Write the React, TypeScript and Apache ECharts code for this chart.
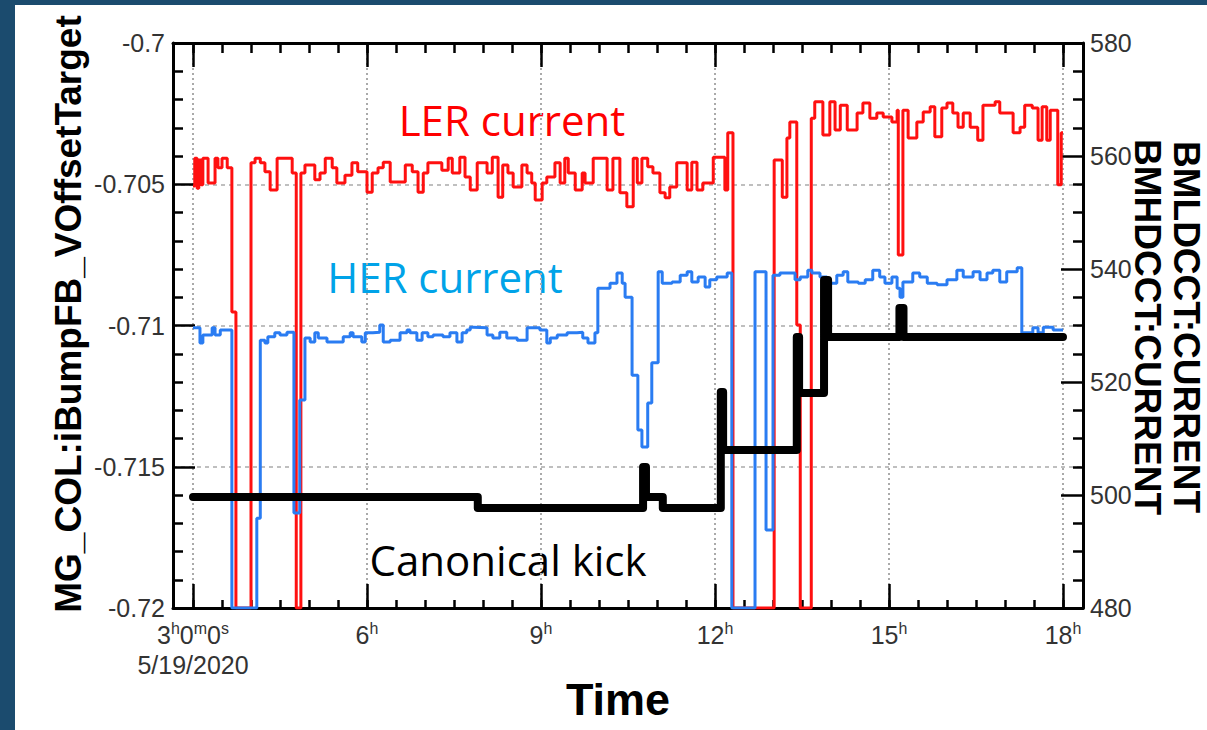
import React, { useEffect, useRef } from 'react';
import * as echarts from 'echarts';

// tick positions (hours of 5/19/2020)
const majorHours = [3, 6, 9, 12, 15, 18];
const minorHours = [3, 3.5, 4, 4.5, 5, 5.5, 6, 6.5, 7, 7.5, 8, 8.5, 9, 9.5, 10, 10.5, 11, 11.5, 12, 12.5, 13, 13.5, 14, 14.5, 15, 15.5, 16, 16.5, 17, 17.5, 18];
const dateLabel = '5/19/2020';

// BMLDCCT:CURRENT (LER current), [hour, mA]
const lerCurrent: [number, number][] = [
  [3.00, 554.7], [3.03, 559.6], [3.07, 554.3], [3.10, 559.3], [3.14, 554.9], [3.17, 559.6], [3.26, 555.2], [3.38, 559.6],
  [3.43, 557.9], [3.50, 559.6], [3.59, 557.9], [3.67, 532.4], [3.74, 480], [4.00, 558.8], [4.07, 559.6], [4.16, 558.8],
  [4.24, 557.2], [4.33, 554.0], [4.45, 559.6], [4.71, 557.0], [4.78, 480], [4.86, 557.0], [4.93, 558.4], [5.10, 555.8],
  [5.19, 557.0], [5.28, 559.6], [5.40, 557.9], [5.48, 555.2], [5.62, 556.6], [5.74, 558.8], [5.84, 557.2], [6.00, 553.6],
  [6.09, 557.0], [6.19, 557.9], [6.28, 558.9], [6.40, 555.4], [6.66, 558.4], [6.78, 557.2], [6.88, 553.6], [6.97, 557.0],
  [7.05, 558.8], [7.29, 557.5], [7.40, 559.6], [7.47, 557.0], [7.60, 559.8], [7.69, 556.3], [7.78, 554.0], [7.90, 558.8],
  [8.07, 557.0], [8.16, 559.8], [8.26, 552.7], [8.34, 558.4], [8.43, 557.0], [8.52, 554.5], [8.67, 558.4], [8.76, 557.0],
  [8.84, 555.2], [8.90, 552.2], [9.02, 555.2], [9.10, 556.3], [9.24, 558.8], [9.33, 555.2], [9.41, 559.6], [9.47, 557.0],
  [9.59, 554.0], [9.71, 557.0], [9.76, 555.2], [9.90, 559.6], [10.14, 554.0], [10.24, 559.6], [10.36, 553.5], [10.48, 551.0],
  [10.59, 559.6], [10.66, 555.2], [10.74, 559.6], [10.84, 558.1], [10.93, 557.0], [11.05, 553.5], [11.14, 552.6], [11.22, 554.5],
  [11.34, 558.8], [11.52, 554.0], [11.60, 558.9], [11.69, 554.0], [11.79, 555.2], [11.97, 559.8], [12.17, 554.0], [12.22, 564.1],
  [12.31, 480], [13.02, 559.3], [13.16, 552.7], [13.24, 563.2], [13.29, 566.0], [13.41, 530.1], [13.47, 480], [13.66, 566.7],
  [13.72, 569.6], [13.86, 563.7], [13.98, 569.6], [14.07, 564.6], [14.16, 569.0], [14.28, 564.6], [14.45, 567.6], [14.55, 569.4],
  [14.67, 566.7], [14.79, 567.6], [14.90, 566.9], [15.05, 566.0], [15.14, 568.1], [15.16, 542.5], [15.24, 568.1], [15.33, 563.2],
  [15.48, 566.0], [15.59, 567.8], [15.71, 568.7], [15.79, 563.4], [15.91, 568.5], [16.00, 569.4], [16.10, 567.6], [16.19, 565.1],
  [16.28, 567.6], [16.40, 565.1], [16.53, 562.8], [16.62, 569.0], [16.83, 569.6], [16.91, 567.6], [17.14, 564.1], [17.26, 565.1],
  [17.34, 569.0], [17.47, 568.5], [17.57, 562.8], [17.64, 568.7], [17.72, 562.8], [17.78, 568.1], [17.91, 554.9], [17.97, 564.1],
  [18.00, 564.1],
];

// BMHDCCT:CURRENT (HER current), [hour, mA]
const herCurrent: [number, number][] = [
  [3.00, 529.6], [3.12, 526.9], [3.17, 528.3], [3.33, 529.6], [3.38, 528.3], [3.47, 529.2], [3.67, 480], [4.10, 495.9],
  [4.16, 527.4], [4.24, 526.9], [4.29, 528.0], [4.41, 528.7], [4.50, 528.3], [4.62, 528.8], [4.74, 496.8], [4.84, 516.8],
  [4.93, 527.8], [5.02, 527.1], [5.10, 528.7], [5.16, 527.8], [5.31, 527.1], [5.59, 528.0], [5.71, 528.7], [5.76, 528.0],
  [5.91, 527.1], [5.97, 528.7], [6.10, 528.8], [6.22, 530.1], [6.28, 527.1], [6.40, 527.4], [6.57, 528.7], [6.69, 529.2],
  [6.74, 528.7], [6.86, 527.4], [6.95, 528.7], [7.05, 528.0], [7.14, 528.3], [7.31, 528.0], [7.43, 528.7], [7.55, 527.1],
  [7.64, 528.7], [7.72, 529.2], [7.78, 529.7], [7.83, 529.6], [8.07, 528.3], [8.17, 527.8], [8.29, 528.8], [8.41, 527.8],
  [8.59, 527.4], [8.76, 529.6], [8.98, 529.2], [9.10, 526.9], [9.16, 527.8], [9.28, 528.3], [9.45, 528.7], [9.62, 528.8],
  [9.72, 527.8], [9.81, 526.9], [9.93, 528.7], [9.98, 536.6], [10.19, 537.5], [10.31, 539.3], [10.40, 537.5], [10.45, 535.0],
  [10.57, 521.2], [10.67, 511.5], [10.74, 508.5], [10.84, 516.3], [10.91, 523.4], [11.02, 539.5], [11.09, 537.5], [11.26, 537.7],
  [11.40, 538.9], [11.52, 539.5], [11.60, 537.7], [11.71, 538.6], [11.83, 536.8], [11.91, 538.1], [12.03, 538.6], [12.21, 539.3],
  [12.29, 480], [12.69, 539.5], [12.88, 493.8], [13.00, 538.9], [13.12, 539.3], [13.38, 538.1], [13.47, 538.6], [13.60, 539.8],
  [13.67, 539.3], [13.81, 538.6], [13.93, 537.5], [14.10, 538.9], [14.21, 539.5], [14.29, 537.7], [14.47, 537.5], [14.59, 538.1],
  [14.72, 539.8], [14.84, 538.6], [14.93, 537.5], [15.05, 538.6], [15.14, 536.6], [15.19, 535.0], [15.24, 537.7], [15.41, 539.3],
  [15.53, 538.6], [15.66, 537.5], [15.83, 537.2], [16.00, 538.1], [16.17, 539.8], [16.28, 538.6], [16.45, 539.5], [16.57, 538.1],
  [16.69, 539.3], [16.79, 539.8], [16.91, 537.7], [17.03, 539.5], [17.21, 540.2], [17.29, 528.7], [17.48, 529.6], [17.57, 528.7],
  [17.66, 529.7], [17.83, 529.2], [18.00, 529.2],
];

// MG_COL:iBumpFB_VOffsetTarget (canonical kick), [hour, value]
const canonicalKick: [number, number][] = [
  [3.00, -0.71607], [7.91, -0.71646], [10.76, -0.71501], [10.81, -0.71607], [11.10, -0.71646], [12.10, -0.71235],
  [12.14, -0.71441], [13.41, -0.71041], [13.45, -0.71239], [13.88, -0.70839], [13.95, -0.71041], [15.18, -0.70938],
  [15.25, -0.71041], [18.00, -0.71041],
];

const FONT = 'Liberation Sans, Arial, sans-serif';
const X_MIN = 2.655;
const X_MAX = 18.345;

export default function App() {
  const ref = useRef<HTMLDivElement>(null);
  useEffect(() => {
    if (!ref.current) return;
    const chart = echarts.init(ref.current, null, { renderer: 'svg' });
    const baseX = {
      type: 'value',
      gridIndex: 0,
      min: X_MIN,
      max: X_MAX,
      axisLine: { show: false },
      axisLabel: { show: false },
      splitLine: { show: false },
    };
    const option: any = {
      animation: false,
      backgroundColor: '#ffffff',
      grid: { left: 173, top: 43, width: 910, height: 565, containLabel: false, outerBoundsMode: 'none' },
      xAxis: [
        {
          ...baseX,
          position: 'bottom',
          axisLine: { show: true, onZero: false, lineStyle: { color: '#000', width: 3 } },
          axisTick: { show: true, inside: true, length: 24, customValues: majorHours, lineStyle: { color: '#000', width: 2.5 } },
          axisLabel: {
            show: true,
            customValues: majorHours,
            margin: 12,
            formatter: (v: number) =>
              v === majorHours[0]
                ? `{n|${v}}{s|h}{n|0}{s|m}{n|0}{s|s}\n{n|${dateLabel}}`
                : `{n|${v}}{s|h}`,
            rich: {
              n: { fontFamily: FONT, fontSize: 25, color: '#333', lineHeight: 30 },
              s: { fontFamily: FONT, fontSize: 16, color: '#333', lineHeight: 13, verticalAlign: 'top' },
            },
          },
          splitLine: { show: true, lineStyle: { color: '#aaa', width: 2, type: [2, 3] } },
        },
        {
          ...baseX,
          position: 'bottom',
          axisTick: { show: true, inside: true, length: 8, customValues: minorHours, lineStyle: { color: '#000', width: 2.5 } },
        },
        {
          ...baseX,
          position: 'top',
          axisLine: { show: true, onZero: false, lineStyle: { color: '#000', width: 3 } },
          axisTick: { show: true, inside: true, length: 24, customValues: majorHours, lineStyle: { color: '#000', width: 2.5 } },
        },
        {
          ...baseX,
          position: 'top',
          axisTick: { show: true, inside: true, length: 10, customValues: minorHours, lineStyle: { color: '#000', width: 2.5 } },
        },
      ],
      yAxis: [
        {
          type: 'value',
          position: 'left',
          min: -0.72,
          max: -0.7,
          interval: 0.005,
          axisLine: { show: true, onZero: false, lineStyle: { color: '#000', width: 3 } },
          axisTick: { show: true, inside: true, length: 22, lineStyle: { color: '#000', width: 2.5 } },
          minorTick: { show: true, splitNumber: 5, length: 10, lineStyle: { color: '#000', width: 2.5 } },
          axisLabel: { fontFamily: FONT, fontSize: 25, color: '#333', margin: 8 },
          splitLine: { show: true, lineStyle: { color: '#aaa', width: 1.5, type: [4, 4] } },
        },
        {
          type: 'value',
          position: 'right',
          min: 480,
          max: 580,
          interval: 20,
          axisLine: { show: true, onZero: false, lineStyle: { color: '#000', width: 3 } },
          axisTick: { show: true, inside: true, length: 22, lineStyle: { color: '#000', width: 2.5 } },
          minorTick: { show: true, splitNumber: 4, length: 10, lineStyle: { color: '#000', width: 2.5 } },
          axisLabel: { fontFamily: FONT, fontSize: 25, color: '#333', margin: 7 },
          splitLine: { show: false },
        },
      ],
      series: [
        {
          name: 'LER current',
          type: 'line',
          xAxisIndex: 0,
          yAxisIndex: 1,
          step: 'end',
          showSymbol: false,
          silent: true,
          data: lerCurrent,
          lineStyle: { color: '#ff1010', width: 3 },
        },
        {
          name: 'HER current',
          type: 'line',
          xAxisIndex: 0,
          yAxisIndex: 1,
          step: 'end',
          showSymbol: false,
          silent: true,
          data: herCurrent,
          lineStyle: { color: '#2a7cf2', width: 3 },
        },
        {
          name: 'Canonical kick',
          type: 'line',
          xAxisIndex: 0,
          yAxisIndex: 0,
          step: 'end',
          showSymbol: false,
          silent: true,
          data: canonicalKick,
          lineStyle: { color: '#000', width: 8, join: 'round', cap: 'round' },
        },
      ],
      graphic: [
        { type: 'rect', shape: { x: 0, y: 0, width: 15, height: 730 }, style: { fill: '#1b4b6e' }, silent: true },
        { type: 'rect', shape: { x: 0, y: 0, width: 1207, height: 5 }, style: { fill: '#1b4b6e' }, silent: true },
        {
          type: 'text', x: 68, y: 314, rotation: Math.PI / 2,
          style: { text: 'MG_COL:iBumpFB_VOffsetTarget', font: `bold 37px ${FONT}`, fill: '#000', textAlign: 'center', textVerticalAlign: 'middle' },
        },
        {
          type: 'text', x: 1186, y: 327, rotation: -Math.PI / 2,
          style: { text: 'BMLDCCT:CURRENT', font: `bold 37px ${FONT}`, fill: '#000', textAlign: 'center', textVerticalAlign: 'middle' },
        },
        {
          type: 'text', x: 1147, y: 327, rotation: -Math.PI / 2,
          style: { text: 'BMHDCCT:CURRENT', font: `bold 37px ${FONT}`, fill: '#000', textAlign: 'center', textVerticalAlign: 'middle' },
        },
        {
          type: 'text', x: 618, y: 699,
          style: { text: 'Time', font: `bold 45px ${FONT}`, fill: '#000', textAlign: 'center', textVerticalAlign: 'middle' },
        },
        {
          type: 'text', x: 512, y: 119,
          style: { text: 'LER current', font: '42px "Open Sans", sans-serif', fill: '#ff0000', textAlign: 'center', textVerticalAlign: 'middle' },
        },
        {
          type: 'text', x: 445, y: 276,
          style: { text: 'HER current', font: '42px "Open Sans", sans-serif', fill: '#00a3e8', textAlign: 'center', textVerticalAlign: 'middle' },
        },
        {
          type: 'text', x: 508, y: 559,
          style: { text: 'Canonical kick', font: '42px "Open Sans", sans-serif', fill: '#000', textAlign: 'center', textVerticalAlign: 'middle' },
        },
      ],
    };
    chart.setOption(option);
    return () => chart.dispose();
  }, []);
  return <div ref={ref} style={{ position: 'absolute', left: 0, top: 0, width: 1207, height: 730 }} />;
}
